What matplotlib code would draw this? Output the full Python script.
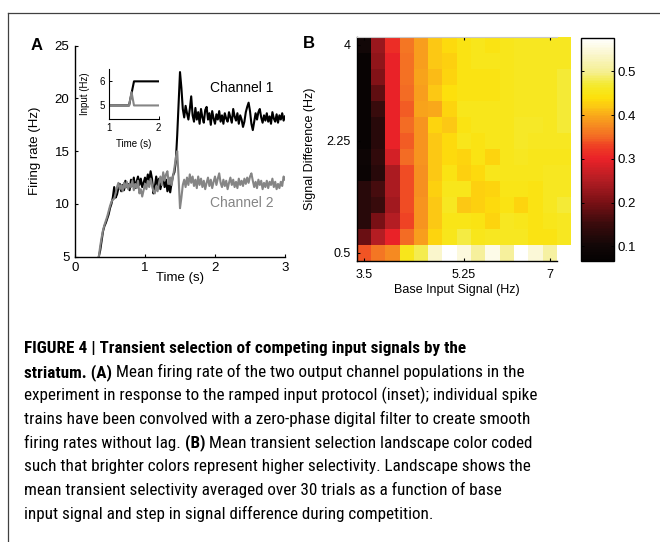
import os
import numpy as np
import matplotlib
matplotlib.use("Agg")
import matplotlib.pyplot as plt
import matplotlib.font_manager as fm
from matplotlib.colors import LinearSegmentedColormap, Normalize
from matplotlib.lines import Line2D

# ---------------- data ----------------
time_s = np.round(np.arange(0.34, 3.0001, 0.02), 2)

channel1_rate = [
    5.0, 5.6, 6.5, 7.4, 7.9, 8.2, 8.6, 9.0, 9.6, 10.0, 10.6, 11.6, 10.6, 10.9, 11.5, 11.9,
    11.2, 11.8, 11.3, 12.2, 11.6, 11.9, 11.3, 12.3, 11.7, 12.5, 11.5, 12.1, 12.6, 11.8,
    12.4, 11.6, 12.0, 12.5, 11.9, 12.8, 12.2, 13.1, 12.4, 11.0, 11.6, 12.6, 11.8, 12.4,
    11.4, 12.0, 12.6, 11.6, 12.3, 11.2, 11.8, 11.1, 12.0, 12.7, 13.0, 14.0, 16.5, 19.5,
    22.5, 21.0, 19.0, 18.2, 19.3, 18.6, 18.0, 19.0, 20.2, 18.4, 17.8, 19.1, 18.0, 18.7,
    17.6, 19.0, 18.2, 17.7, 18.9, 19.2, 18.0, 18.6, 17.5, 18.8, 18.1, 17.6, 18.5, 18.0,
    18.8, 17.8, 18.4, 17.6, 18.6, 18.1, 17.8, 18.7, 18.2, 17.7, 19.0, 18.3, 17.9, 18.6,
    17.6, 18.4, 18.0, 17.3, 17.8, 18.7, 19.2, 19.6, 18.8, 17.6, 17.0, 17.8, 18.6, 18.0,
    18.7, 19.0, 18.2, 17.7, 18.4, 17.9, 18.6, 17.8, 18.3, 17.6, 18.7, 18.1, 17.8, 18.5,
    17.7, 18.4, 18.0, 18.6, 17.9, 18.3,
]

channel2_rate = [
    5.0, 6.0, 6.8, 7.5, 8.0, 8.4, 8.8, 9.3, 9.8, 10.2, 10.4, 10.5, 11.0, 11.6, 12.0, 11.4,
    11.8, 11.2, 12.0, 11.5, 12.1, 11.4, 11.9, 11.6, 12.2, 11.3, 11.9, 11.5, 12.2, 11.0,
    11.4, 10.7, 11.3, 11.9, 11.4, 12.2, 11.6, 12.4, 11.8, 11.2, 11.0, 11.7, 11.2, 12.0,
    12.6, 11.8, 13.0, 12.2, 12.8, 13.1, 11.9, 12.5, 11.8, 12.6, 13.4, 14.4, 15.0, 12.5,
    9.6, 10.6, 11.8, 12.3, 11.6, 12.5, 11.8, 12.8, 12.0, 12.6, 11.7, 12.3, 11.5, 12.6,
    11.8, 12.4, 11.6, 12.2, 11.4, 12.0, 12.5, 11.7, 12.3, 11.5, 12.1, 12.6, 11.8, 12.4,
    12.9, 12.0, 11.6, 12.3, 11.7, 12.2, 11.4, 12.0, 12.5, 11.8, 12.3, 11.6, 12.1, 11.5,
    12.4, 11.8, 12.2, 11.7, 12.4, 11.9, 12.5, 12.0, 12.6, 12.9, 12.2, 11.6, 12.1, 11.5,
    12.3, 11.8, 12.2, 11.4, 12.0, 11.6, 12.2, 11.5, 12.1, 11.8, 12.4, 11.6, 12.1, 11.4,
    11.9, 11.5, 12.1, 11.7, 12.6, 12.3,
]

inset_time1 = [1.0, 1.4, 1.5, 2.0]
inset_input1 = [5.0, 5.0, 6.0, 6.0]
inset_time2 = [1.0, 1.4, 1.45, 1.5, 2.0]
inset_input2 = [5.0, 5.0, 5.55, 5.0, 5.0]

# transient selectivity landscape: rows = signal difference (top = 4 Hz, bottom = 0.5 Hz)
# columns = base input signal (3.5 Hz ... )
selectivity = np.array([
    [0.100, 0.230, 0.310, 0.360, 0.390, 0.420, 0.435, 0.445, 0.455, 0.445, 0.455, 0.460, 0.460, 0.460, 0.460],
    [0.075, 0.220, 0.300, 0.355, 0.390, 0.420, 0.425, 0.445, 0.455, 0.455, 0.455, 0.460, 0.460, 0.460, 0.460],
    [0.075, 0.210, 0.300, 0.355, 0.395, 0.410, 0.430, 0.445, 0.445, 0.445, 0.455, 0.460, 0.460, 0.460, 0.470],
    [0.075, 0.180, 0.300, 0.350, 0.390, 0.420, 0.440, 0.445, 0.445, 0.445, 0.455, 0.460, 0.460, 0.460, 0.470],
    [0.075, 0.150, 0.300, 0.345, 0.395, 0.400, 0.430, 0.455, 0.455, 0.455, 0.455, 0.460, 0.460, 0.460, 0.470],
    [0.075, 0.130, 0.300, 0.350, 0.385, 0.430, 0.420, 0.445, 0.455, 0.455, 0.455, 0.462, 0.462, 0.460, 0.470],
    [0.075, 0.130, 0.300, 0.345, 0.385, 0.420, 0.435, 0.455, 0.445, 0.455, 0.455, 0.462, 0.460, 0.460, 0.460],
    [0.090, 0.140, 0.280, 0.350, 0.385, 0.420, 0.435, 0.430, 0.445, 0.430, 0.455, 0.460, 0.455, 0.455, 0.455],
    [0.085, 0.130, 0.245, 0.335, 0.380, 0.420, 0.445, 0.425, 0.435, 0.455, 0.455, 0.455, 0.455, 0.460, 0.460],
    [0.130, 0.160, 0.245, 0.335, 0.380, 0.425, 0.455, 0.455, 0.425, 0.430, 0.450, 0.450, 0.445, 0.460, 0.460],
    [0.130, 0.150, 0.235, 0.335, 0.383, 0.420, 0.458, 0.420, 0.425, 0.435, 0.445, 0.430, 0.445, 0.460, 0.470],
    [0.130, 0.200, 0.250, 0.330, 0.385, 0.420, 0.450, 0.450, 0.445, 0.430, 0.458, 0.455, 0.445, 0.455, 0.458],
    [0.190, 0.250, 0.300, 0.350, 0.390, 0.430, 0.455, 0.475, 0.455, 0.460, 0.460, 0.460, 0.445, 0.445, 0.458],
    [0.340, 0.360, 0.375, 0.455, 0.480, 0.540, 0.576, 0.550, 0.505, 0.560, 0.505, 0.576, 0.545, 0.510, np.nan],
])

base_input_ticklabels = ["3.5", "5.25", "7"]
base_input_tickcols = [0, 7, 13]
signal_diff_ticklabels = ["4", "2.25", "0.5"]
signal_diff_tickrows = [0, 6, 13]
cbar_ticks = [0.1, 0.2, 0.3, 0.4, 0.5]
cbar_ticklabels = ["0.1", "0.2", "0.3", "0.4", "0.5"]
vmin, vmax = 0.067, 0.576

caption_lines = [
    [("FIGURE 4 | Transient selection of competing input signals by the", True)],
    [("striatum. (A)", True), ("Mean firing rate of the two output channel populations in the", False)],
    [("experiment in response to the ramped input protocol (inset); individual spike", False)],
    [("trains have been convolved with a zero-phase digital filter to create smooth", False)],
    [("firing rates without lag.", False), ("(B)", True), ("Mean transient selection landscape color coded", False)],
    [("such that brighter colors represent higher selectivity. Landscape shows the", False)],
    [("mean transient selectivity averaged over 30 trials as a function of base", False)],
    [("input signal and step in signal difference during competition.", False)],
]

# ---------------- style ----------------
plt.rcParams["font.family"] = ["Liberation Sans", "DejaVu Sans"]

W, H = 660, 542
fig = plt.figure(figsize=(W / 100, H / 100), dpi=100)
fig.patch.set_facecolor("white")


def rect(x0, y0, x1, y1):
    return [x0 / W, 1 - y1 / H, (x1 - x0) / W, (y1 - y0) / H]


# frame lines
fig.add_artist(Line2D([8 / W, 8 / W], [0, 1 - 13.3 / H], transform=fig.transFigure,
                      color="#404040", lw=0.9))
fig.add_artist(Line2D([8 / W, 1], [1 - 13.3 / H, 1 - 13.3 / H], transform=fig.transFigure,
                      color="#404040", lw=0.9))

# ---------------- panel A ----------------
axA = fig.add_axes(rect(75, 45.7, 285, 256.7))
axA.plot(time_s, channel1_rate, color="black", lw=1.5)
axA.plot(time_s, channel2_rate, color="#858585", lw=1.5)
axA.set_xlim(0, 3)
axA.set_ylim(5, 25)
axA.set_xticks([0, 1, 2, 3])
axA.set_yticks([5, 10, 15, 20, 25])
for s in ["top", "right"]:
    axA.spines[s].set_visible(False)
for s in ["left", "bottom"]:
    axA.spines[s].set_linewidth(1.0)
axA.tick_params(direction="in", length=2.5, width=0.8, labelsize=9.5, pad=4)
axA.set_xlabel("Time (s)", fontsize=9.5)
axA.set_ylabel("Firing rate (Hz)", fontsize=9.5)
axA.xaxis.set_label_coords(0.5, -(278 - 256.7) / 211)
axA.xaxis.label.set_va("center")
axA.yaxis.set_label_coords((35 - 75) / 210, 0.5)
axA.yaxis.label.set_va("center")
fig.text(210 / W, 1 - 88 / H, "Channel 1", fontsize=10, color="black", va="center", ha="left")
fig.text(210 / W, 1 - 203 / H, "Channel 2", fontsize=10, color="#858585", va="center", ha="left")
fig.text(31 / W, 1 - 50 / H, "A", fontsize=12, fontweight="bold", va="baseline", ha="left")

# inset
axI = fig.add_axes(rect(109.3, 69.3, 158.7, 118.7))
axI.plot(inset_time1, inset_input1, color="black", lw=1.5)
axI.plot(inset_time2, inset_input2, color="#858585", lw=1.5)
axI.set_xlim(1, 2)
axI.set_ylim(4.45, 6.5)
axI.set_xticks([1, 2])
axI.set_yticks([5, 6])
for s in ["top", "right"]:
    axI.spines[s].set_visible(False)
axI.tick_params(direction="in", length=2, width=0.7, labelsize=7, pad=3)
axI.set_xlabel("Time (s)", fontsize=7)
axI.set_ylabel("Input (Hz)", fontsize=7)
axI.xaxis.set_label_coords(0.5, -(144 - 118.7) / 49.4)
axI.xaxis.label.set_va("center")
axI.yaxis.set_label_coords((85 - 109.3) / 49.4, 0.5)
axI.yaxis.label.set_va("center")

# ---------------- panel B ----------------
stops = [
    (0.067, "#050202"), (0.10, "#120707"), (0.15, "#3a0b0c"), (0.20, "#7a1015"),
    (0.25, "#b31d23"), (0.30, "#ea2228"), (0.33, "#ef4024"), (0.35, "#f36a24"),
    (0.38, "#f69020"), (0.40, "#f9a81a"), (0.42, "#fcc814"), (0.43, "#fdd20e"),
    (0.44, "#fde00c"), (0.455, "#f8e61a"), (0.47, "#f4ea30"), (0.50, "#f5ef90"),
    (0.54, "#faf6cc"), (0.576, "#ffffff"),
]
cmap = LinearSegmentedColormap.from_list(
    "landscape", [((v - vmin) / (vmax - vmin), c) for v, c in stops], N=128)
cmap.set_bad((1, 1, 1, 0))

axB = fig.add_axes(rect(356.7, 36.7, 556.9, 260.7))
nrows, ncols = selectivity.shape
mesh = axB.pcolormesh(np.arange(ncols + 1) - 0.5, np.arange(nrows + 1) - 0.5,
                      np.ma.masked_invalid(selectivity), cmap=cmap,
                      norm=Normalize(vmin=vmin, vmax=vmax), shading="flat")
mesh.set_clip_on(False)
axB.set_xlim(-0.5, 13.5)
axB.set_ylim(13.5, -0.5)
axB.set_xticks(base_input_tickcols)
axB.set_xticklabels(base_input_ticklabels)
axB.set_yticks(signal_diff_tickrows)
axB.set_yticklabels(signal_diff_ticklabels)
axB.spines["right"].set_visible(False)
axB.spines["top"].set_color("#c8c8c8")
axB.spines["left"].set_linewidth(1.0)
axB.spines["bottom"].set_linewidth(1.0)
axB.tick_params(direction="in", length=2.5, width=0.8, labelsize=9, top=True)
axB.tick_params(axis="x", pad=6)
axB.tick_params(axis="y", pad=4.5)
axB.set_xlabel("Base Input Signal (Hz)", fontsize=9)
axB.set_ylabel("Signal Difference (Hz)", fontsize=9)
axB.xaxis.set_label_coords(0.5, -(290 - 260.7) / 224)
axB.xaxis.label.set_va("center")
axB.yaxis.set_label_coords((310 - 356.7) / 200.2, 0.5)
axB.yaxis.label.set_va("center")
fig.text(303 / W, 1 - 48 / H, "B", fontsize=12, fontweight="bold", va="baseline", ha="left")

cax = fig.add_axes(rect(581, 38, 614.3, 260.7))
cb = fig.colorbar(mesh, cax=cax, ticks=cbar_ticks)
cb.set_ticklabels(cbar_ticklabels)
cb.outline.set_linewidth(1.0)
cax.tick_params(direction="in", left=True, right=True, length=2, width=0.7,
                labelsize=9.5, pad=2.5)

# ---------------- caption ----------------
def _weight(f):
    w = f.weight
    if isinstance(w, str):
        w = fm.weight_dict.get(w, 400)
    return int(w)


def find_condensed(bold):
    prefs = ["liberation sans narrow", "roboto condensed", "noto sans", "open sans",
             "dejavu sans", "lato", "inter", "roboto"]
    best = None
    for f in fm.fontManager.ttflist:
        name = f.name.lower()
        fn = os.path.basename(f.fname).lower()
        st = str(f.stretch).lower()
        is_cond = ("narrow" in name or "condensed" in name or "narrow" in fn
                   or "condensed" in fn or st in ("condensed",))
        if not is_cond:
            continue
        if any(k in fn or k in name for k in ("extra", "ultra", "semi")):
            continue
        if f.style != "normal":
            continue
        w = _weight(f)
        if bold and not (650 <= w <= 750):
            continue
        if (not bold) and not (380 <= w <= 420):
            continue
        rank = next((i for i, p in enumerate(prefs) if name.startswith(p)), len(prefs))
        if best is None or rank < best[0]:
            best = (rank, f.fname)
    return best[1] if best else None


reg_path = find_condensed(False)
bold_path = find_condensed(True)
if reg_path:
    fp_reg = fm.FontProperties(fname=reg_path)
else:
    fp_reg = fm.FontProperties(family="Liberation Sans")
if bold_path:
    fp_bold = fm.FontProperties(fname=bold_path)
elif reg_path:
    fp_bold = fm.FontProperties(fname=reg_path, weight="bold")
else:
    fp_bold = fm.FontProperties(family="Liberation Sans", weight="bold")

renderer = fig.canvas.get_renderer()


def text_width(s, fp, size):
    p = fp.copy()
    p.set_size(size)
    t = fig.text(0, 0, s, fontproperties=p)
    w = t.get_window_extent(renderer).width
    t.remove()
    return w


ref_line = caption_lines[2][0][0]
size = 10.0 * 509.0 / text_width(ref_line, fp_reg, 10.0)
size = min(size, 13.5)
space_w = text_width("a a", fp_reg, size) - text_width("aa", fp_reg, size)

x_start = 24.0
base0 = 353.3
spacing = 23.6
for i, line in enumerate(caption_lines):
    x = x_start
    yb = base0 + i * spacing
    for j, (seg, bold) in enumerate(line):
        if j > 0:
            x += space_w
        fp = (fp_bold if bold else fp_reg).copy()
        fp.set_size(size)
        t = fig.text(x / W, 1 - yb / H, seg, fontproperties=fp, va="baseline",
                     ha="left", color="black")
        x += t.get_window_extent(renderer).width

fig.savefig("out.png", dpi=100, facecolor="white")
